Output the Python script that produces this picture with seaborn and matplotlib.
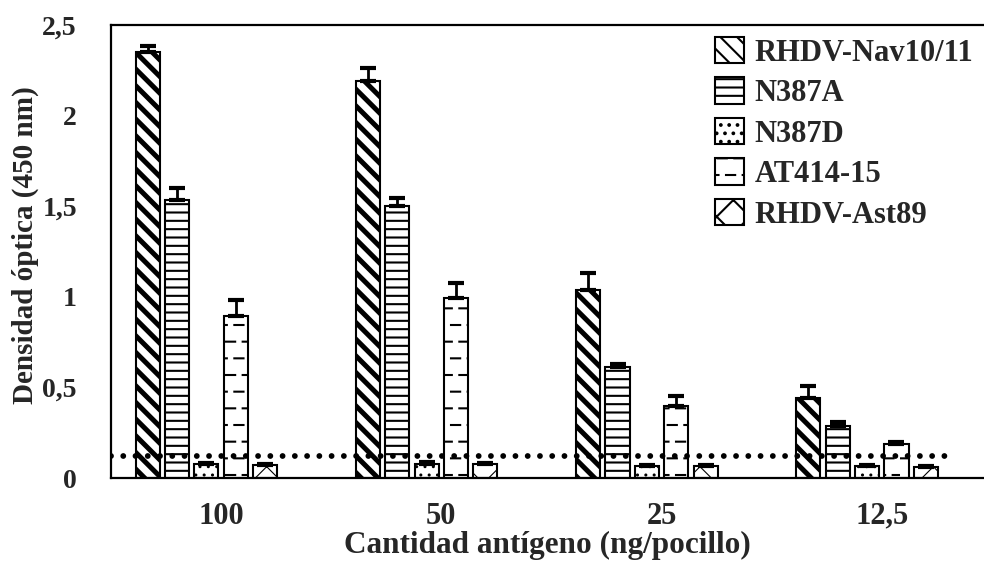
import warnings
warnings.filterwarnings("ignore")
import numpy as np
import pandas as pd
import matplotlib
matplotlib.use("Agg")
import matplotlib.pyplot as plt
import matplotlib.hatch as mhatch
from matplotlib.path import Path
from matplotlib.patches import Patch
import seaborn as sns

# ---------------- data ----------------
categories = ["100", "50", "25", "12,5"]
series = ["RHDV-Nav10/11", "N387A", "N387D", "AT414-15", "RHDV-Ast89"]
nav = [2.35, 2.19, 1.04, 0.44]
nav_err = [0.035, 0.075, 0.09, 0.065]
n387a = [1.535, 1.50, 0.61, 0.285]
n387a_err = [0.065, 0.045, 0.02, 0.025]
n387d = [0.075, 0.08, 0.065, 0.065]
n387d_err = [0.01, 0.006, 0.005, 0.005]
at414 = [0.895, 0.995, 0.395, 0.19]
at414_err = [0.085, 0.08, 0.055, 0.006]
ast89 = [0.07, 0.078, 0.065, 0.062]
ast89_err = [0.006, 0.006, 0.004, 0.004]
cutoff = 0.12
yticks = [0, 0.5, 1, 1.5, 2, 2.5]
yticklabels = ["0", "0,5", "1", "1,5", "2", "2,5"]
xlabel = "Cantidad antígeno (ng/pocillo)"
ylabel = "Densidad óptica (450 nm)"

values = [nav, n387a, n387d, at414, ast89]
errors = [nav_err, n387a_err, n387d_err, at414_err, ast89_err]
hatches = ["\\\\", "--", "..", "_", "x"]
hatch_lw = [3.6, 1.5, 1.0, 1.5, 0.8]


# custom dashed-row hatch for AT414-15
class DashRows(mhatch.HatchPatternBase):
    def __init__(self, hatch, density):
        n = hatch.count('_')
        self.rows = 6 * n
        self.cols = 6 if n else 0
        self.num_vertices = self.rows * self.cols * 2

    def set_vertices_and_codes(self, vertices, codes):
        k = 0
        for r in range(self.rows):
            y = (r + 0.5) / self.rows
            off = 0.0 if r % 2 == 0 else 0.5 / self.cols
            for c in range(self.cols):
                x0 = c / self.cols + off + 0.01
                vertices[k] = (x0, y)
                vertices[k + 1] = (x0 + 0.55 / self.cols, y)
                codes[k] = Path.MOVETO
                codes[k + 1] = Path.LINETO
                k += 2


mhatch._hatch_types.append(DashRows)

rows = []
for s, vals in zip(series, values):
    for c, v in zip(categories, vals):
        rows.append({"cat": c, "val": v, "serie": s})
df = pd.DataFrame(rows)

sns.set_style("white")
plt.rcParams["font.family"] = ["Liberation Serif", "DejaVu Serif"]
plt.rcParams["font.weight"] = "bold"
plt.rcParams["hatch.linewidth"] = 1.5

fig = plt.figure(figsize=(9.84, 5.69), dpi=100)
ax = fig.add_axes([111 / 984, (569 - 478) / 569, (984 - 111) / 984, 453 / 569])

hue_order = series + [" "]
sns.barplot(data=df, x="cat", y="val", hue="serie", order=categories,
            hue_order=hue_order, palette=["white"] * 6, width=0.8, gap=0.18,
            errorbar=None, edgecolor="black", linewidth=1.5, legend=False,
            saturation=1, ax=ax)

slot = 0.8 / 6
for p in ax.patches:
    cx = p.get_x() + p.get_width() / 2
    ci = int(round(cx))
    hi = int(round((cx - ci) / slot + 2.5))
    if hi < 0 or hi >= len(series) or p.get_height() == 0 or np.isnan(p.get_height()):
        continue
    p.set_hatch(hatches[hi])
    p.set_facecolor("white")
    p.set_edgecolor("black")
    try:
        p.set_hatch_linewidth(hatch_lw[hi])
    except Exception:
        pass
    ax.errorbar(cx, p.get_height(), yerr=[[0], [errors[hi][ci]]], fmt="none",
                ecolor="black", elinewidth=2, capsize=6, capthick=3, zorder=3)

ax.hlines(cutoff, -0.5, 3.32, colors="black", linewidth=4.2,
          linestyles=(0, (0.001, 2.1)), capstyle="round", zorder=5)

ax.set_xlim(-0.5, 3.464)
ax.set_ylim(0, 2.5)
ax.set_yticks(yticks)
ax.set_yticklabels(yticklabels)
ax.tick_params(axis="y", direction="inout", length=11, width=1.5, pad=19,
               labelsize=20)
ax.tick_params(axis="x", length=0, pad=17, labelsize=22)
for lab in ax.get_xticklabels() + ax.get_yticklabels():
    lab.set_fontweight("bold")

for side in ["left", "bottom", "top"]:
    ax.spines[side].set_visible(True)
    ax.spines[side].set_linewidth(1.6)
    ax.spines[side].set_color("black")
ax.spines["right"].set_visible(False)

ax.set_xlabel(xlabel, fontsize=22.5, fontweight="bold")
ax.xaxis.set_label_coords(0.5, -0.117)
ax.set_ylabel(ylabel, fontsize=21, fontweight="bold")
ax.yaxis.set_label_coords(-0.083, 0.515)

handles = []
for h, lw in zip(hatches, hatch_lw):
    hp = Patch(facecolor="white", edgecolor="black", hatch=h, linewidth=1.5)
    try:
        hp.set_hatch_linewidth(lw)
    except Exception:
        pass
    handles.append(hp)
fig.legend(handles, series, loc="upper left",
           bbox_to_anchor=(715 / 984, 1 - 37 / 569), frameon=False,
           prop={"family": "Liberation Serif", "weight": "bold", "size": 22},
           handlelength=0.95, handleheight=0.95, handletextpad=0.35,
           labelspacing=0.32, borderpad=0, borderaxespad=0)

fig.savefig("out.png", dpi=100)
